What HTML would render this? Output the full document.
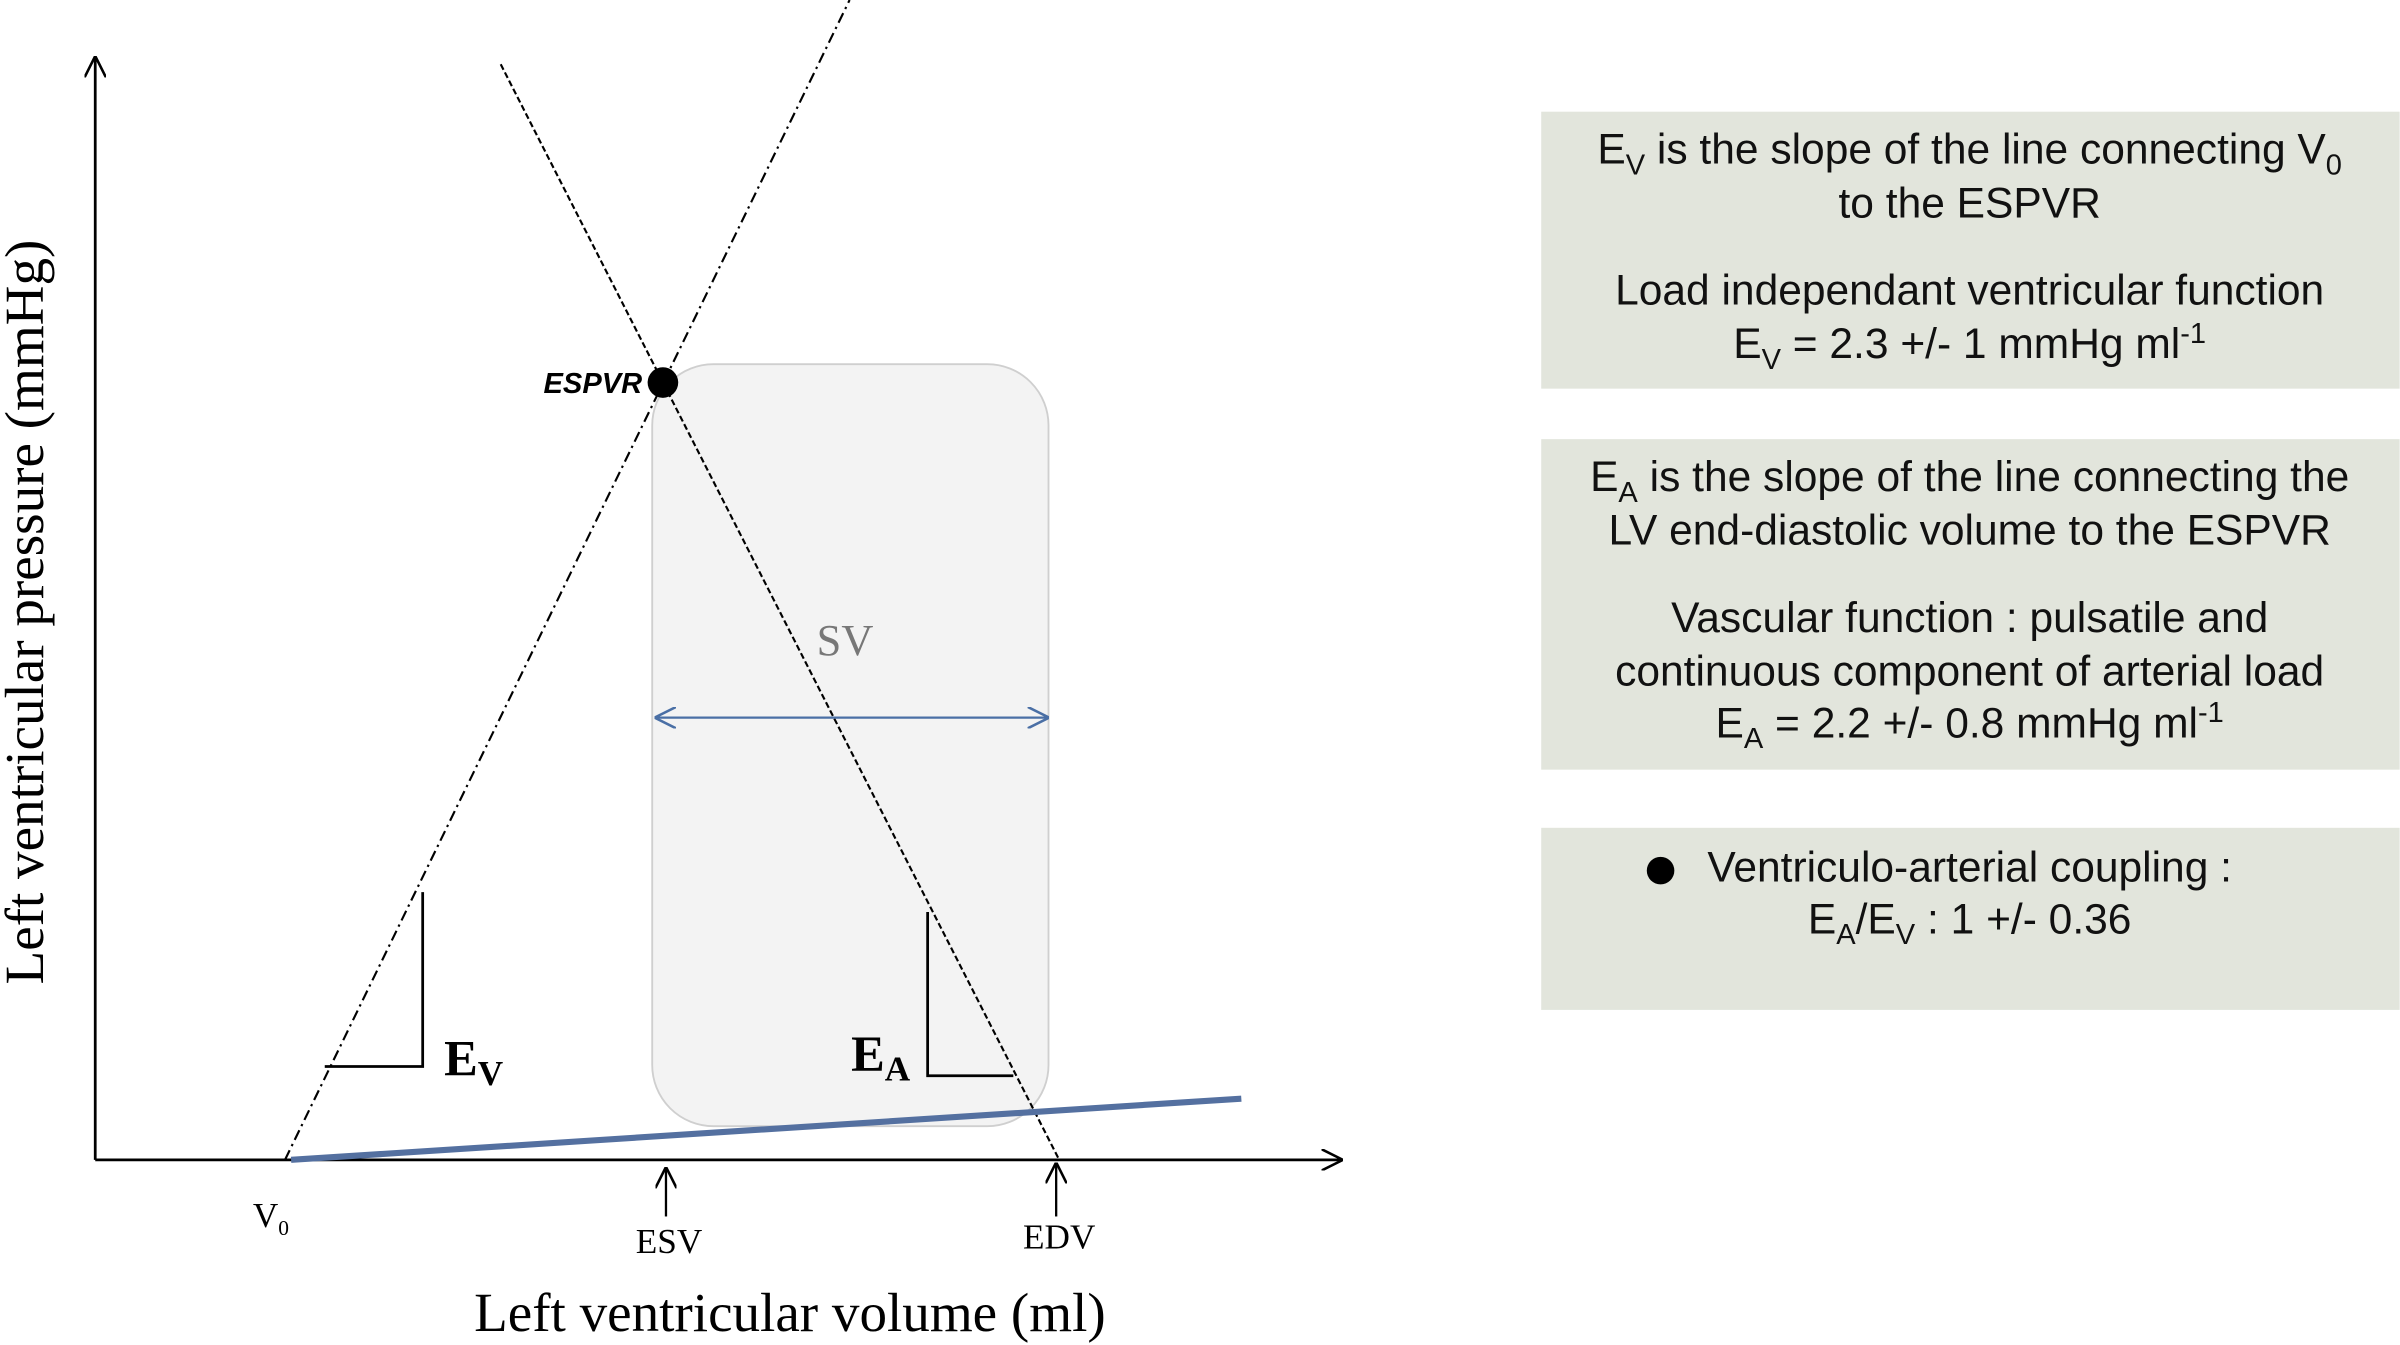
<!DOCTYPE html>
<html><head><meta charset="utf-8"><style>
html,body{margin:0;padding:0;background:#fff;}
svg{display:block}
.s{font-family:"Liberation Serif",serif}
.a{font-family:"Liberation Sans",sans-serif;font-size:27.8px;fill:#111}
</style></head><body>
<svg width="2400" height="1345" viewBox="0 0 1568 879" xmlns="http://www.w3.org/2000/svg">
<defs>
<marker id="ar" viewBox="0 0 10 10" refX="9" refY="5" markerWidth="14" markerHeight="14" markerUnits="userSpaceOnUse" orient="auto"><path d="M0,0 L10,5 L0,10" fill="none" stroke="#000" stroke-width="1.2"/></marker>
<marker id="bar" viewBox="0 0 10 10" refX="9" refY="5" markerWidth="14" markerHeight="14" markerUnits="userSpaceOnUse" orient="auto-start-reverse"><path d="M0,0 L10,5 L0,10" fill="none" stroke="#4a6fa5" stroke-width="1.2"/></marker>
</defs>
<rect x="426" y="238" width="259" height="498" rx="40" fill="#f3f3f3" stroke="#cfcfcf" stroke-width="1.2"/>
<line x1="62" y1="758" x2="62" y2="38" stroke="#000" stroke-width="1.8" marker-end="url(#ar)"/>
<line x1="62" y1="758" x2="876" y2="758" stroke="#000" stroke-width="1.8" marker-end="url(#ar)"/>
<line x1="186" y1="758" x2="555" y2="0" stroke="#000" stroke-width="1.4" stroke-dasharray="7,3,1.5,3"/>
<line x1="327" y1="42" x2="692" y2="758" stroke="#000" stroke-width="1.4" stroke-dasharray="4,2"/>
<circle cx="433" cy="250" r="10" fill="#000"/>
<text x="355" y="257" font-family="Liberation Sans,sans-serif" font-weight="bold" font-style="italic" font-size="19">ESPVR</text>
<text x="552" y="428" class="s" font-size="29" fill="#777" text-anchor="middle">SV</text>
<line x1="429" y1="469" x2="684" y2="469" stroke="#4a6fa5" stroke-width="1.5" marker-start="url(#bar)" marker-end="url(#bar)"/>
<line x1="190" y1="758" x2="811" y2="718" stroke="#5470a0" stroke-width="4"/>
<polyline points="276,583 276,697 212,697" fill="none" stroke="#000" stroke-width="1.8"/>
<text x="290" y="703" class="s" font-weight="bold" font-size="33">E<tspan font-size="23" dy="6">V</tspan></text>
<polyline points="606,596 606,703 662,703" fill="none" stroke="#000" stroke-width="1.8"/>
<text x="556" y="700" class="s" font-weight="bold" font-size="33">E<tspan font-size="23" dy="6">A</tspan></text>
<line x1="435" y1="795" x2="435" y2="764" stroke="#000" stroke-width="1.5" marker-end="url(#ar)"/>
<line x1="690" y1="795" x2="690" y2="761" stroke="#000" stroke-width="1.5" marker-end="url(#ar)"/>
<text x="165" y="802" class="s" font-size="23">V<tspan font-size="14" dy="5">0</tspan></text>
<text x="437" y="819" class="s" font-size="23" text-anchor="middle">ESV</text>
<text x="692" y="816" class="s" font-size="23" text-anchor="middle">EDV</text>
<text x="516" y="870" class="s" font-size="36" text-anchor="middle">Left ventricular volume (ml)</text>
<text transform="translate(28,400) rotate(-90)" class="s" font-size="36" text-anchor="middle">Left ventricular pressure (mmHg)</text>
<rect x="1007" y="73" width="561" height="181" fill="#e2e5dc"/>
<rect x="1007" y="287" width="561" height="216" fill="#e2e5dc"/>
<rect x="1007" y="541" width="561" height="119" fill="#e2e5dc"/>
<g class="a" text-anchor="middle">
<text x="1287" y="107">E<tspan font-size="19" dy="7">V</tspan><tspan dy="-7"> is the slope of the line connecting V</tspan><tspan font-size="19" dy="7">0</tspan></text>
<text x="1287" y="142">to the ESPVR</text>
<text x="1287" y="199">Load independant ventricular function</text>
<text x="1287" y="234">E<tspan font-size="19" dy="7">V</tspan><tspan dy="-7"> = 2.3 +/- 1 mmHg ml</tspan><tspan font-size="19" dy="-10">-1</tspan></text>
<text x="1287" y="321">E<tspan font-size="19" dy="7">A</tspan><tspan dy="-7"> is the slope of the line connecting the</tspan></text>
<text x="1287" y="356">LV end-diastolic volume to the ESPVR</text>
<text x="1287" y="413">Vascular function : pulsatile and</text>
<text x="1287" y="448">continuous component of arterial load</text>
<text x="1287" y="482">E<tspan font-size="19" dy="7">A</tspan><tspan dy="-7"> = 2.2 +/- 0.8 mmHg ml</tspan><tspan font-size="19" dy="-10">-1</tspan></text>
<text x="1287" y="576">Ventriculo-arterial coupling :</text>
<text x="1287" y="610">E<tspan font-size="19" dy="7">A</tspan><tspan dy="-7">/E</tspan><tspan font-size="19" dy="7">V</tspan><tspan dy="-7"> : 1 +/- 0.36</tspan></text>
</g>
<circle cx="1085" cy="569" r="9" fill="#000"/>
</svg>
</body></html>
